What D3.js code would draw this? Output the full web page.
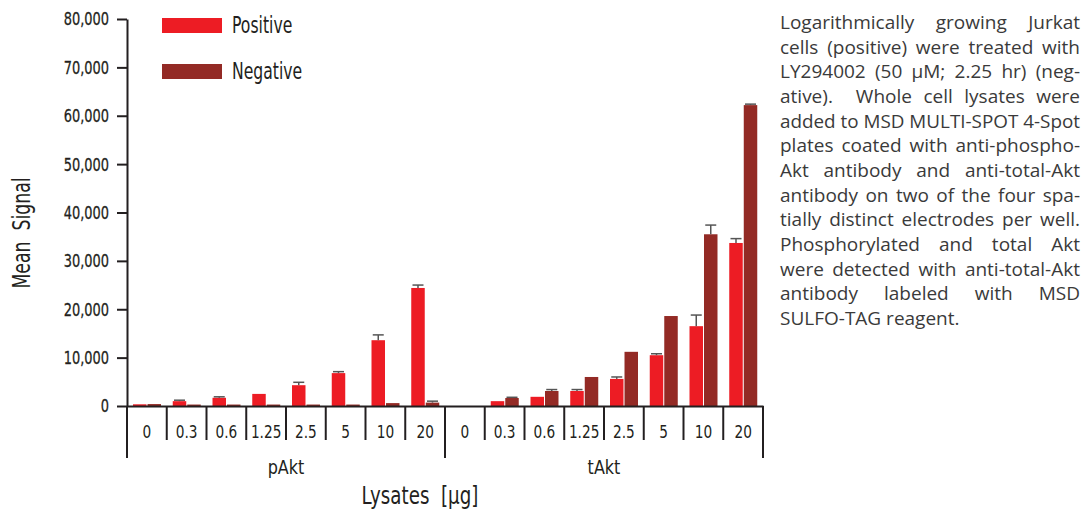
<!DOCTYPE html>
<html>
<head>
<meta charset="utf-8">
<script src="https://cdn.jsdelivr.net/npm/d3@7"></script>
<style>
  body { margin: 0; background: #fff; }
  svg text { fill: #231f20; }
</style>
</head>
<body>
<div id="chart"></div>
<script>
// Akt phosphorylation in Jurkat lysates: mean signal per lysate amount
const categories = ["0", "0.3", "0.6", "1.25", "2.5", "5", "10", "20"];
const groups = ["pAkt", "tAkt"];
const seriesNames = ["Positive", "Negative"];
const pAktPositive    = [350, 1000, 1700, 2500, 4300, 6800, 13600, 24400];
const pAktPositiveErr = [0, 200, 200, 0, 600, 300, 1100, 600];
const pAktNegative    = [400, 300, 300, 300, 300, 300, 600, 700];
const pAktNegativeErr = [0, 0, 0, 0, 0, 0, 0, 300];
const tAktPositive    = [0, 1000, 1900, 3100, 5600, 10500, 16500, 33700];
const tAktPositiveErr = [0, 0, 0, 300, 400, 300, 2300, 900];
const tAktNegative    = [0, 1650, 3100, 6000, 11200, 18600, 35500, 62200];
const tAktNegativeErr = [0, 150, 300, 0, 0, 0, 1900, 200];
const yTicks = [0, 10000, 20000, 30000, 40000, 50000, 60000, 70000, 80000];
const caption = [
  "Logarithmically growing Jurkat",
  "cells (positive) were treated with",
  "LY294002 (50 µM; 2.25 hr) (neg-",
  "ative).  Whole cell lysates were",
  "added to MSD MULTI-SPOT 4-Spot",
  "plates coated with anti-phospho-",
  "Akt antibody and anti-total-Akt",
  "antibody on two of the four spa-",
  "tially distinct electrodes per well.",
  "Phosphorylated and total Akt",
  "were detected with anti-total-Akt",
  "antibody labeled with MSD",
  "SULFO-TAG reagent."
];

const colors = { Positive: "#ed1c24", Negative: "#932a25" };
const font = "'DejaVu Sans', sans-serif";
const ink = "#231f20";

// squeeze text horizontally (no condensed font installed)
function squeeze(sel, f) {
  sel.each(function () {
    const w = this.getComputedTextLength();
    d3.select(this).attr("textLength", w * f).attr("lengthAdjust", "spacingAndGlyphs");
  });
}

const width = 1085, height = 510;
const svg = d3.select("#chart").append("svg")
  .attr("width", width).attr("height", height)
  .style("font-family", font);

const keys = groups.flatMap(g => categories.map(c => g + "|" + c));
const values = {
  pAkt: { Positive: [pAktPositive, pAktPositiveErr], Negative: [pAktNegative, pAktNegativeErr] },
  tAkt: { Positive: [tAktPositive, tAktPositiveErr], Negative: [tAktNegative, tAktNegativeErr] }
};
const data = [];
groups.forEach(g => categories.forEach((c, i) => seriesNames.forEach(s => {
  data.push({ key: g + "|" + c, series: s, value: values[g][s][0][i], err: values[g][s][1][i] });
})));

const x = d3.scaleBand().domain(keys).range([127, 763]).padding(0);
const x1 = d3.scaleBand().domain(seriesNames).range([6, 34]).paddingInner(0.07);
const y = d3.scaleLinear().domain([0, 80000]).range([406, 19]);

// y axis
svg.append("g")
  .attr("transform", "translate(127,0)")
  .call(d3.axisLeft(y).tickValues(yTicks).tickFormat(d3.format(",")).tickSize(10).tickSizeOuter(0).tickPadding(8))
  .call(g => g.select(".domain").attr("stroke", ink).attr("stroke-width", 2))
  .call(g => g.selectAll(".tick line").attr("stroke", ink).attr("stroke-width", 2))
  .call(g => g.selectAll("text").attr("font-size", 18.5).attr("font-family", font).attr("fill", ink)
    .attr("stroke", ink).attr("stroke-width", 0.3))
  .call(g => squeeze(g.selectAll("text"), 0.7));

// bars
svg.append("g").selectAll("rect").data(data).join("rect")
  .attr("x", d => x(d.key) + x1(d.series))
  .attr("y", d => y(d.value))
  .attr("width", x1.bandwidth())
  .attr("height", d => y(0) - y(d.value))
  .attr("fill", d => colors[d.series]);

// error bars
const errs = svg.append("g").attr("stroke", "#555").attr("stroke-width", 1.5)
  .selectAll("g").data(data.filter(d => d.err > 0)).join("g")
  .attr("transform", d => `translate(${x(d.key) + x1(d.series) + x1.bandwidth() / 2},0)`);
errs.append("line").attr("y1", d => y(d.value)).attr("y2", d => y(d.value + d.err));
errs.append("line").attr("x1", -5.5).attr("x2", 5.5)
  .attr("y1", d => y(d.value + d.err)).attr("y2", d => y(d.value + d.err));

// x axis with category labels
svg.append("g")
  .attr("transform", `translate(0,${y(0)})`)
  .call(d3.axisBottom(x).tickSize(0).tickPadding(19).tickFormat(k => k.split("|")[1]))
  .call(g => g.select(".domain").attr("stroke", ink).attr("stroke-width", 2))
  .call(g => g.selectAll("text").attr("font-size", 18.5).attr("font-family", font).attr("fill", ink))
  .call(g => squeeze(g.selectAll("text"), 0.74));

// category dividers and group dividers
const bounds = keys.map(k => x(k)).concat([x.range()[1]]);
svg.append("g").attr("stroke", ink).attr("stroke-width", 2)
  .selectAll("line").data(bounds).join("line")
  .attr("x1", d => d).attr("x2", d => d)
  .attr("y1", y(0))
  .attr("y2", (d, i) => (i % categories.length === 0) ? 458 : 440);

// group labels
svg.append("g").selectAll("text").data(groups).join("text")
  .attr("x", g => (x(g + "|" + categories[0]) + x(g + "|" + categories[categories.length - 1]) + x.bandwidth()) / 2)
  .attr("y", 474)
  .attr("text-anchor", "middle")
  .attr("font-size", 20)
  .text(g => g)
  .call(s => squeeze(s, 0.8));

// axis titles
svg.append("text").attr("x", 420).attr("y", 504).attr("text-anchor", "middle")
  .attr("font-size", 24).attr("xml:space", "preserve").text("Lysates  [µg]")
  .call(s => squeeze(s, 0.76));
svg.append("text").attr("transform", "translate(30,233) rotate(-90)")
  .attr("text-anchor", "middle").attr("font-size", 24).attr("xml:space", "preserve").text("Mean  Signal")
  .call(s => squeeze(s, 0.72));

// legend
const legend = svg.append("g").selectAll("g").data(seriesNames).join("g")
  .attr("transform", (d, i) => `translate(162,${18 + i * 46})`);
legend.append("rect").attr("width", 60).attr("height", 15).attr("fill", d => colors[d]);
legend.append("text").attr("x", 70).attr("y", 15).attr("font-size", 23).text(d => d)
  .call(s => squeeze(s, 0.68));

// caption, justified by widening the word gaps
const capWidth = 300;
svg.append("g").selectAll("text").data(caption).join("text")
  .attr("x", 780)
  .attr("y", (d, i) => 29 + i * 24.67)
  .attr("font-family", "'Open Sans', 'Noto Sans', sans-serif")
  .attr("font-size", 19)
  .style("fill", "#3a3a3a")
  .attr("xml:space", "preserve")
  .text(d => d)
  .each(function (d, i) {
    if (i === caption.length - 1) return;
    const w = this.getComputedTextLength();
    const gaps = (d.match(/ /g) || []).length;
    if (w > capWidth || gaps === 0) {
      d3.select(this).attr("textLength", capWidth).attr("lengthAdjust", "spacingAndGlyphs");
    } else {
      d3.select(this).attr("word-spacing", (capWidth - w) / gaps);
    }
  });
</script>
</body>
</html>
